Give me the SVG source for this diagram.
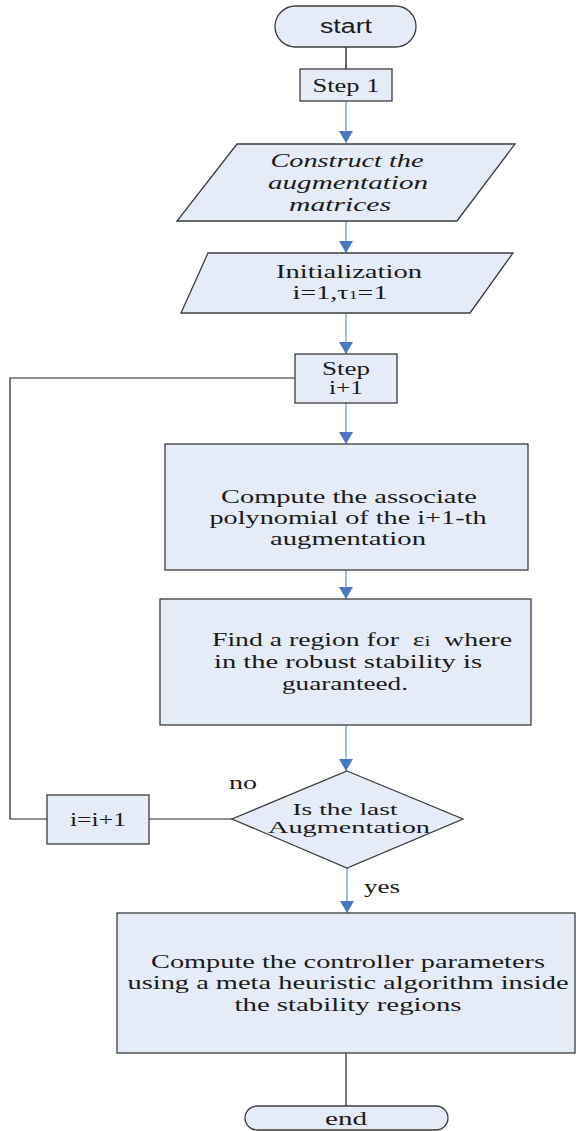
<svg xmlns="http://www.w3.org/2000/svg" width="576" height="1131" viewBox="0 0 576 1131">
<style>
.n{fill:#e5ecf7;stroke:#3c3c3c;stroke-width:1.3}
.t{font-family:"Liberation Serif",serif;font-size:19px;fill:#1a1a1a;text-anchor:middle}
.s{font-family:"Liberation Sans",sans-serif;font-size:20px;fill:#1a1a1a;text-anchor:middle}
.i{font-style:italic}
.d{font-size:17px}
.b{stroke:#8aaedc;stroke-width:1.6;fill:none}
.k{stroke:#222;stroke-width:1.2;fill:none}
.g{stroke:#666;stroke-width:2;fill:none}
</style>
<defs>
<marker id="ah" markerUnits="userSpaceOnUse" markerWidth="16" markerHeight="12" viewBox="0 0 16 12" refX="8" refY="12" orient="0">
<path d="M1,0 L15,0 L8,12 Z" fill="#4a78c0"/>
</marker>
</defs>
<g id="connectors">
<line class="g" x1="346" y1="47" x2="346" y2="69"/>
<line class="b" x1="346" y1="101" x2="346" y2="143" marker-end="url(#ah)"/>
<line class="b" x1="346" y1="221" x2="346" y2="253" marker-end="url(#ah)"/>
<line class="b" x1="346" y1="313" x2="346" y2="354" marker-end="url(#ah)"/>
<line class="b" x1="346" y1="403" x2="346" y2="444" marker-end="url(#ah)"/>
<line class="b" x1="346" y1="570" x2="346" y2="599" marker-end="url(#ah)"/>
<line class="b" x1="346" y1="725" x2="346" y2="771" marker-end="url(#ah)"/>
<line class="b" x1="347" y1="868" x2="347" y2="913" marker-end="url(#ah)"/>
<line class="k" x1="232" y1="819" x2="149" y2="819"/>
<polyline class="k" points="47,819 10,819 10,378 295,378"/>
<line class="k" x1="346" y1="1053" x2="346" y2="1106"/>
<text class="t" x="243" y="789" textLength="28" lengthAdjust="spacingAndGlyphs">no</text>
<text class="t" x="382" y="893" textLength="36" lengthAdjust="spacingAndGlyphs">yes</text>
</g>
<g id="start">
<rect class="n" x="275" y="6" width="141" height="41" rx="20.5"/>
<text class="s" x="346" y="33" textLength="52" lengthAdjust="spacingAndGlyphs">start</text>
</g>
<g id="step1">
<rect class="n" x="300" y="69" width="92" height="32"/>
<text class="t" x="346" y="92" textLength="67" lengthAdjust="spacingAndGlyphs">Step 1</text>
</g>
<g id="construct">
<polygon class="n" points="237,144 515,144 457,221 177,221"/>
<text class="t i" x="347" y="167" textLength="153" lengthAdjust="spacingAndGlyphs">Construct the</text>
<text class="t i" x="348" y="189" textLength="160" lengthAdjust="spacingAndGlyphs">augmentation</text>
<text class="t i" x="340" y="211" textLength="102" lengthAdjust="spacingAndGlyphs">matrices</text>
</g>
<g id="init">
<polygon class="n" points="208,253 513,253 470,313 181,313"/>
<text class="t" x="349" y="278" textLength="146" lengthAdjust="spacingAndGlyphs">Initialization</text>
<text class="t" x="340" y="299" textLength="95" lengthAdjust="spacingAndGlyphs">i=1,τ<tspan font-size="12">1</tspan>=1</text>
</g>
<g id="stepi">
<rect class="n" x="295" y="354" width="102" height="49"/>
<text class="t" x="346" y="375" textLength="48" lengthAdjust="spacingAndGlyphs">Step</text>
<text class="t" x="346" y="394" textLength="34" lengthAdjust="spacingAndGlyphs">i+1</text>
</g>
<g id="poly">
<rect class="n" x="165" y="444" width="363" height="126"/>
<text class="t" x="349" y="503" textLength="256" lengthAdjust="spacingAndGlyphs">Compute the associate</text>
<text class="t" x="348" y="524" textLength="277" lengthAdjust="spacingAndGlyphs">polynomial of the i+1-th</text>
<text class="t" x="348" y="545" textLength="156" lengthAdjust="spacingAndGlyphs">augmentation</text>
</g>
<g id="region">
<rect class="n" x="160" y="599" width="371" height="126"/>
<text class="t" x="362" y="646" textLength="300" lengthAdjust="spacingAndGlyphs">Find a region for &#160;ε<tspan font-size="15">i</tspan>&#160; where</text>
<text class="t" x="348" y="668" textLength="268" lengthAdjust="spacingAndGlyphs">in the robust stability is</text>
<text class="t" x="345" y="690" textLength="126" lengthAdjust="spacingAndGlyphs">guaranteed.</text>
</g>
<g id="decision">
<polygon class="n" points="347,771 463,819 347,868 232,819"/>
<text class="t d" x="345" y="815" textLength="105" lengthAdjust="spacingAndGlyphs">Is the last</text>
<text class="t d" x="349" y="833" textLength="162" lengthAdjust="spacingAndGlyphs">Augmentation</text>
</g>
<g id="inc">
<rect class="n" x="47" y="795" width="102" height="49"/>
<text class="t" x="98" y="826" textLength="56" lengthAdjust="spacingAndGlyphs">i=i+1</text>
</g>
<g id="compute">
<rect class="n" x="117" y="913" width="458" height="140"/>
<text class="t" x="348" y="968" textLength="394" lengthAdjust="spacingAndGlyphs">Compute the controller parameters</text>
<text class="t" x="348" y="989" textLength="441" lengthAdjust="spacingAndGlyphs">using a meta heuristic algorithm inside</text>
<text class="t" x="348" y="1011" textLength="227" lengthAdjust="spacingAndGlyphs">the stability regions</text>
</g>
<g id="end">
<rect class="n" x="245" y="1106" width="203" height="24" rx="12"/>
<text class="t" x="346" y="1125" textLength="42" lengthAdjust="spacingAndGlyphs">end</text>
</g>
</svg>
